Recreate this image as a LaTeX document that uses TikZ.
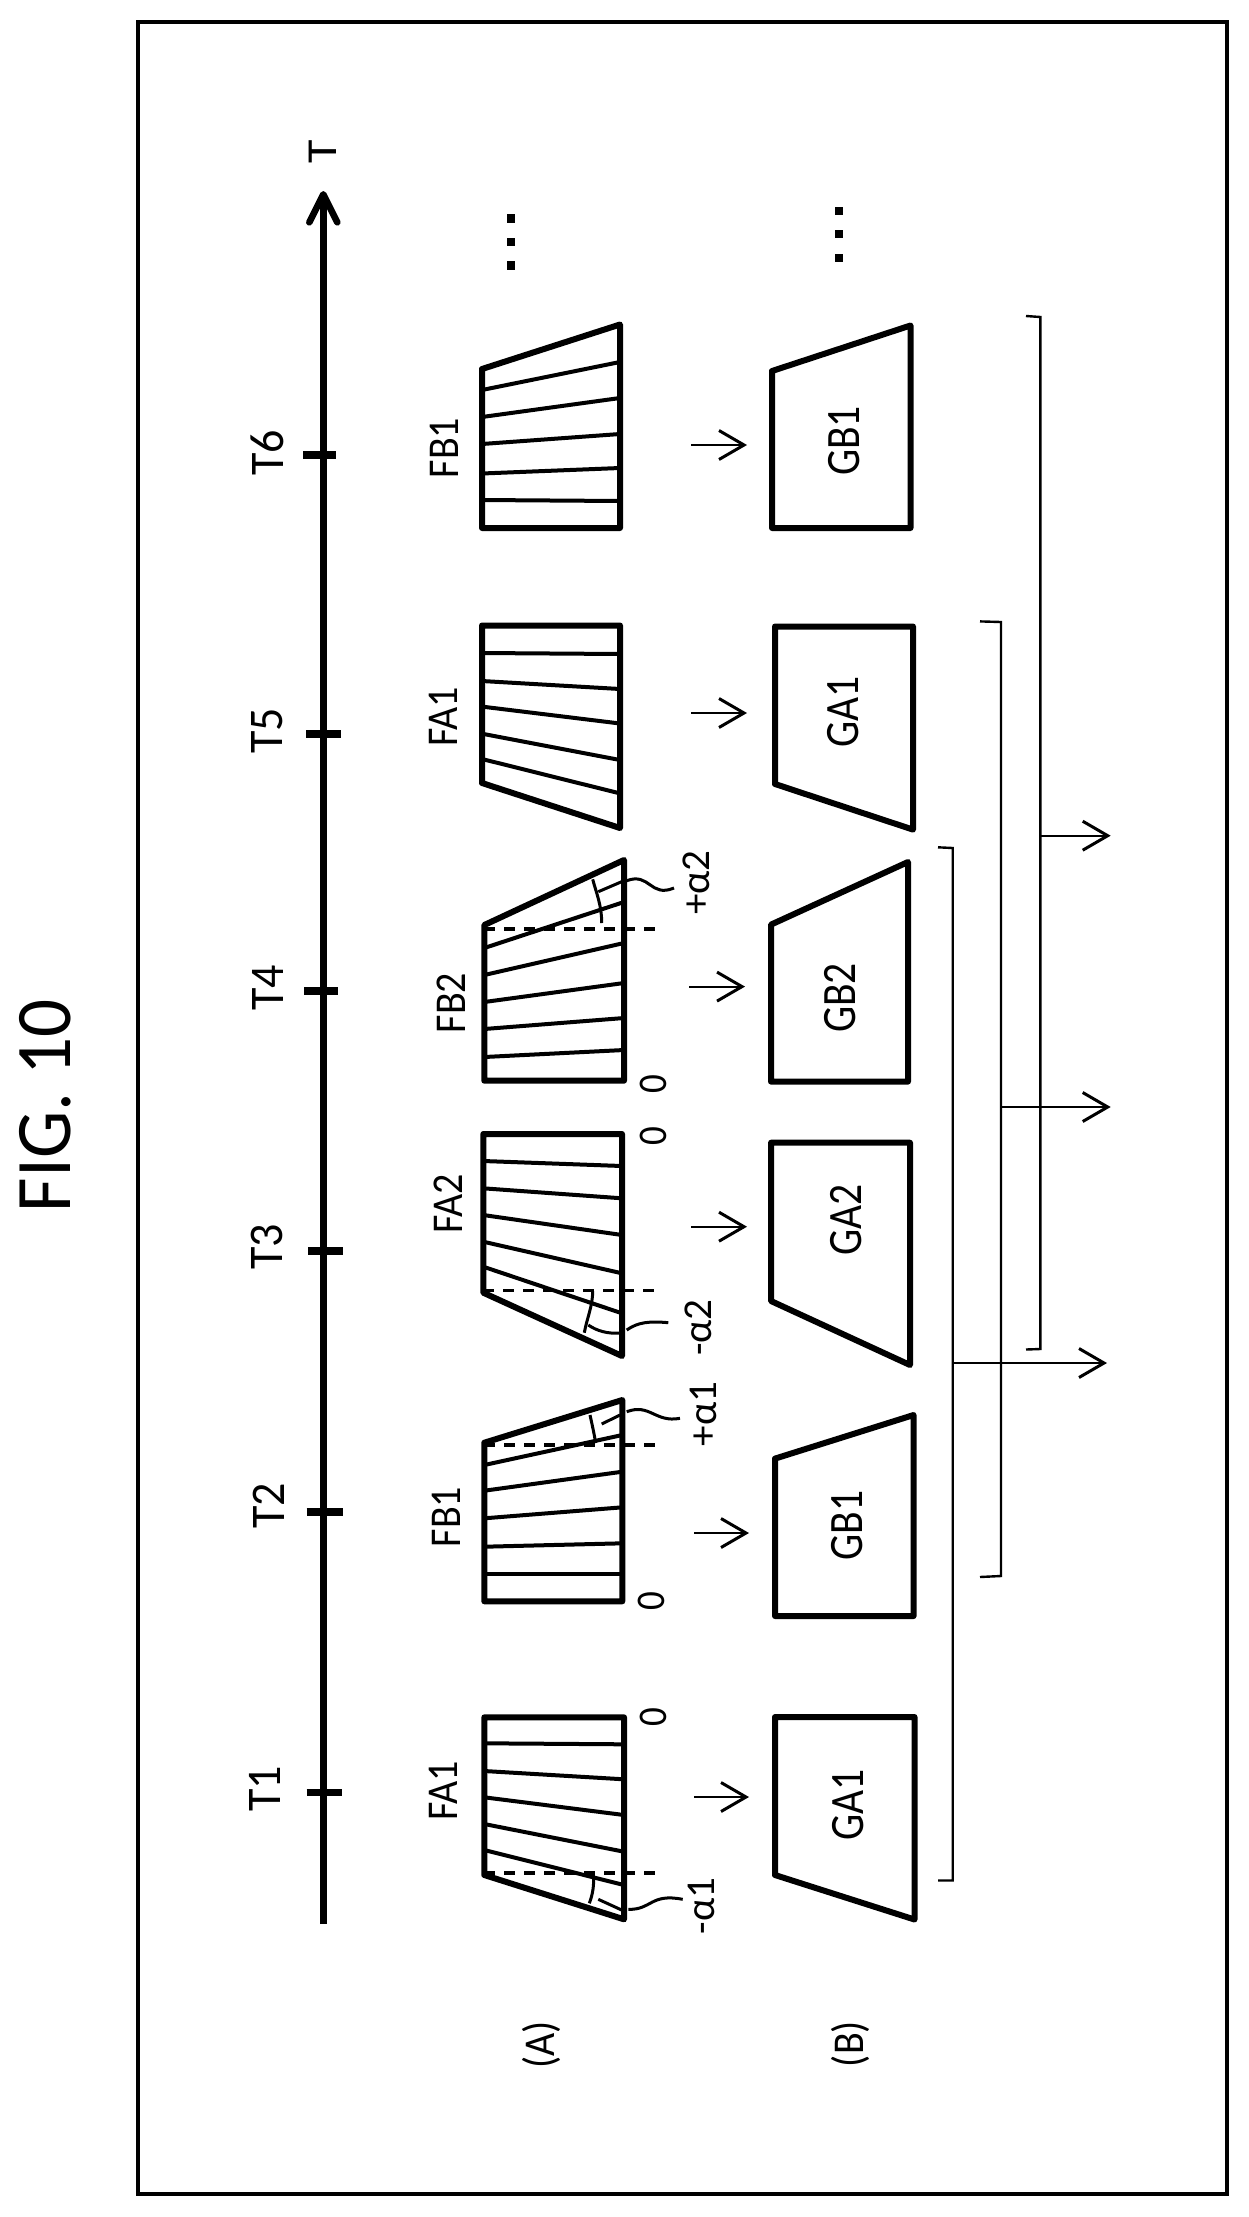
\documentclass[tikz,border=0pt]{standalone}
\usepackage{fontspec}
\setmainfont{Carlito}
\usetikzlibrary{arrows.meta}
\tikzset{
  frame/.style={line width=4pt,draw=black},
  axisline/.style={line width=6.6pt,-{Straight Barb[length=28pt,width=28pt,line width=6.6pt,round]}},
  tickmark/.style={line width=7.4pt},
  outer/.style={line width=6pt,line join=round,draw=black},
  hatchline/.style={line width=4pt},
  dashline/.style={line width=3.6pt,dash pattern=on 11pt off 9pt},
  thinline/.style={line width=3pt},
  flowarrow/.style={line width=2.2pt,-{Straight Barb[length=25pt,width=29pt,line width=3pt]}},
  bracketline/.style={line width=2.4pt},
  lbl/.style={rotate=90,yscale=1.1,inner sep=0pt,text=black},
  tlbl/.style={lbl,yscale=0.955,font=\fontsize{46}{46}\selectfont},
  flbl/.style={lbl,font=\fontsize{40}{40}\selectfont},
  glbl/.style={lbl,yscale=1.05,font=\fontsize{41.5}{41.5}\selectfont},
  albl/.style={rotate=90,inner sep=0pt,font=\fontsize{41}{41}\selectfont},
  zlbl/.style={lbl,font=\fontsize{37}{37}\selectfont},
  dotmark/.style={fill=black,minimum width=8.6pt,minimum height=8.6pt,inner sep=0pt},
}
\newcommand{\hatchset}[3]{\foreach \yl/\yr in {#3}{\draw[hatchline] (#1,\yl) -- (#2,\yr);}}
\newcommand{\tickat}[4]{\coordinate (#1a) at (#2,#4); \coordinate (#1b) at (#3,#4); \draw[tickmark] (#1a) -- (#1b);}
\newcommand{\flowat}[4]{\coordinate (#1s) at (#2,#4); \coordinate (#1e) at (#3,#4); \draw[flowarrow] (#1s) -- (#1e);}
\begin{document}
\begin{tikzpicture}[x=1pt,y=-1pt]
\path[use as bounding box,fill=white] (0,0) rectangle (1249,2217);
\draw[frame] (138,22) rectangle (1226.7,2194);
\node[rotate=90,yscale=1.05,inner sep=0pt,font=\fontsize{75}{75}\selectfont] (title) at (45.3,1105.8) {FIG. 10};
% time axis
\coordinate (axs) at (323.3,1924);
\coordinate (axe) at (323.3,191);
\draw[axisline] (axs) -- (axe);
\node[rotate=90,yscale=0.89,inner sep=0pt,font=\fontsize{48}{48}\selectfont] (tlab) at (323,152) {T};
\tickat{t6}{303}{336}{455}
\tickat{t5}{306}{341}{734}
\tickat{t4}{304}{338}{991}
\tickat{t3}{308}{343}{1251}
\tickat{t2}{306.7}{343}{1512}
\tickat{t1}{306.7}{342}{1792.7}
\node[tlbl] (lt6) at (267,453) {T6};
\node[tlbl] (lt5) at (267,731) {T5};
\node[tlbl] (lt4) at (267.5,988) {T4};
\node[tlbl] (lt3) at (267,1247) {T3};
\node[tlbl] (lt2) at (268.5,1506) {T2};
\node[tlbl] (lt1) at (264.7,1789) {T1};
% dots
\node[dotmark] (d1) at (511,218.7) {};
\node[dotmark] (d2) at (511,242) {};
\node[dotmark] (d3) at (511,265.7) {};
\node[dotmark] (d4) at (839,211) {};
\node[dotmark] (d5) at (839,234) {};
\node[dotmark] (d6) at (839,258) {};
% ---- F row ----
% T6 FB1
\hatchset{482}{620}{390/362,417/398,444/434,473.5/468,500/501}
\draw[outer] (482,369) -- (620,324.5) -- (620,528) -- (482,528) -- cycle;
\node[flbl] (f6) at (444.5,448) {FB1};
% T5 FA1
\hatchset{482}{620}{653/654,681/689,706.6/723.5,733.7/760,759/793.4}
\draw[outer] (482,625.5) -- (620,625.5) -- (620,828) -- (482,783) -- cycle;
\node[flbl] (f5) at (443,717) {FA1};
% T4 FB2
\hatchset{484.3}{624}{948/902,975/943,1002/983,1029/1018,1057/1050}
\draw[outer] (484.3,925) -- (624,860) -- (624,1080.7) -- (484.3,1080.7) -- cycle;
\draw[dashline] (484.3,928.7) -- (658,928.7);
\draw[thinline] (598.3,891.7) -- (624,880.7);
\draw[thinline] (592.7,879.3) .. controls (596,892) and (601.7,905) .. (601.7,923);
\draw[thinline] (626.7,880.7) .. controls (650,872) and (650,898) .. (674,888);
\node[flbl] (f4) at (451.6,1003) {FB2};
\node[albl] (a4) at (696.7,882.7) {+α2};
\node[zlbl] (z4) at (653,1084) {0};
% T3 FA2
\hatchset{483.3}{622}{1161/1166,1188.3/1198.3,1215/1235,1241.7/1273.3,1266.7/1313.3}
\draw[outer] (483.3,1134) -- (622,1134) -- (622,1356) -- (483.3,1292.7) -- cycle;
\draw[dashline] (483.3,1290.3) -- (661,1290.3);
\draw[thinline] (592.7,1291) .. controls (592.7,1306) and (587,1318) .. (584.3,1332.7);
\draw[thinline] (588.3,1325) .. controls (597,1331) and (608,1334) .. (620,1333);
\draw[thinline] (626.7,1330) .. controls (638,1322) and (650,1321) .. (668.3,1322.7);
\node[flbl] (f3) at (448.5,1204) {FA2};
\node[albl] (a3) at (698,1327.5) {-α2};
\node[zlbl] (z3) at (653.5,1136) {0};
% T2 FB1
\hatchset{484.3}{622.3}{1465/1435,1490.7/1471.7,1518.3/1507.3,1546.7/1543.3,1574/1574}
\draw[outer] (484.3,1442.7) -- (622.3,1400) -- (622.3,1601.3) -- (484.3,1601.3) -- cycle;
\draw[dashline] (484.3,1444.7) -- (660.7,1444.7);
\draw[thinline] (601.7,1424) -- (620,1415);
\draw[thinline] (590,1415) .. controls (592,1424) and (594,1433) .. (595.7,1443);
\draw[thinline] (626.7,1411.7) .. controls (650,1403) and (655,1423) .. (680,1418.3);
\node[flbl] (f2) at (446,1517) {FB1};
\node[albl] (a2) at (703,1414) {+α1};
\node[zlbl] (z2) at (651.7,1601) {0};
% T1 FA1
\hatchset{484.3}{624}{1743.3/1744.3,1771/1779.3,1797.3/1815,1824/1851.7,1850/1885}
\draw[outer] (484.3,1717.3) -- (624,1717.3) -- (624,1919.3) -- (484.3,1875) -- cycle;
\draw[dashline] (484.3,1873) -- (660.7,1873);
\draw[thinline] (593.3,1873.3) .. controls (594.5,1885) and (592.5,1895) .. (589.3,1903.3);
\draw[thinline] (598.3,1899.3) -- (621.7,1910);
\draw[thinline] (628.3,1909.3) .. controls (652,1910) and (650,1893) .. (682.7,1899.3);
\node[flbl] (f1) at (443,1791) {FA1};
\node[albl] (a1) at (701.7,1906) {-α1};
\node[zlbl] (z1) at (653,1716.7) {0};
% ---- G row ----
\draw[outer] (772,371) -- (910.5,325.5) -- (910.5,528) -- (772,528) -- cycle;
\node[glbl] (g6) at (844,441) {GB1};
\draw[outer] (775,626.5) -- (913,626.5) -- (913,829.6) -- (775,784) -- cycle;
\node[glbl] (g5) at (843,712) {GA1};
\draw[outer] (771,924.6) -- (908,862) -- (908,1081.6) -- (771,1081.6) -- cycle;
\node[glbl] (g4) at (840,998) {GB2};
\draw[outer] (771,1142.7) -- (910,1142.7) -- (910,1365) -- (771,1301) -- cycle;
\node[glbl] (g3) at (846,1220) {GA2};
\draw[outer] (775,1458.6) -- (913.6,1415) -- (913.6,1616) -- (775,1616) -- cycle;
\node[glbl] (g2) at (847,1525.6) {GB1};
\draw[outer] (775,1717) -- (914.5,1717) -- (914.5,1919.5) -- (775,1875) -- cycle;
\node[glbl] (g1) at (848,1805) {GA1};
% flow arrows
\flowat{p6}{691}{747}{445}
\flowat{p5}{691}{747}{713}
\flowat{p4}{689}{745}{986.6}
\flowat{p3}{691}{747}{1226.7}
\flowat{p2}{694}{749}{1533}
\flowat{p1}{694}{749}{1797}
% brackets
\coordinate (b3a) at (1026,316); \coordinate (b3b) at (1040.3,317);
\coordinate (b3c) at (1040.3,1349); \coordinate (b3d) at (1026,1349.5);
\coordinate (b3m) at (1040.3,835.7); \coordinate (b3e) at (1110.7,835.7);
\draw[bracketline] (b3a) -- (b3b) -- (b3c) -- (b3d);
\draw[flowarrow] (b3m) -- (b3e);
\coordinate (b2a) at (980,621.4); \coordinate (b2b) at (1001,622);
\coordinate (b2c) at (1001,1576); \coordinate (b2d) at (980,1577);
\coordinate (b2m) at (1001,1107); \coordinate (b2e) at (1110.7,1107);
\draw[bracketline] (b2a) -- (b2b) -- (b2c) -- (b2d);
\draw[flowarrow] (b2m) -- (b2e);
\coordinate (b1a) at (938,847.3); \coordinate (b1b) at (952.7,848);
\coordinate (b1c) at (952.7,1880.5); \coordinate (b1d) at (938,1880.5);
\coordinate (b1m) at (952.7,1363); \coordinate (b1e) at (1107,1363);
\draw[bracketline] (b1a) -- (b1b) -- (b1c) -- (b1d);
\draw[flowarrow] (b1m) -- (b1e);
% row captions
\node[flbl] (capa) at (541.7,2045) {(A)};
\node[flbl] (capb) at (850,2044) {(B)};
\end{tikzpicture}
\end{document}
